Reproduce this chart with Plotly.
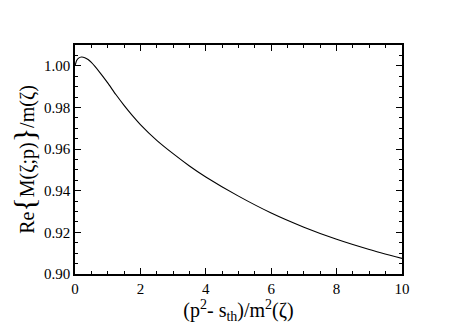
import plotly.graph_objects as go

# values
x_vals = [0.0, 0.05, 0.1, 0.2, 0.3, 0.4, 0.5, 0.75, 1.0, 1.25, 1.5, 1.75, 2.0,
          2.5, 3.0, 3.5, 4.0, 5.0, 6.0, 7.0, 8.0, 9.0, 10.0]
re_m = [1.0000, 1.0025, 1.0036, 1.0042, 1.0039, 1.0030, 1.0016, 0.9970,
        0.9918, 0.9862, 0.9810, 0.9762, 0.9718, 0.9642, 0.9578, 0.9519,
        0.9466, 0.9374, 0.9293, 0.9225, 0.9167, 0.9118, 0.9075]

x_ticks = [0, 2, 4, 6, 8, 10]
y_ticks = [0.90, 0.92, 0.94, 0.96, 0.98, 1.00]

SERIF = "'Liberation Serif', 'Times New Roman', Times, serif"

fig = go.Figure()
fig.add_trace(go.Scatter(
    x=x_vals, y=re_m, mode="lines",
    line=dict(color="black", width=1.1, shape="spline", smoothing=0.6),
    showlegend=False, hoverinfo="skip",
))

axis_common = dict(
    showgrid=False, zeroline=False, automargin=False,
    showline=True, linecolor="black", linewidth=1.5,
    mirror="allticks", ticks="inside", ticklen=6, tickwidth=1, tickcolor="black",
    tickfont=dict(family=SERIF, size=15, color="black"),
)

fig.update_xaxes(
    range=[0, 10], tickvals=x_ticks, ticktext=[str(v) for v in x_ticks],
    minor=dict(dtick=0.5, ticks="inside", ticklen=3, tickcolor="black"),
    title=dict(text="(p<sup>2</sup>- s<sub>th</sub>)/m<sup>2</sup>(ζ)",
               font=dict(family=SERIF, size=20, color="black"),
               standoff=0),
    **axis_common,
)
fig.update_yaxes(
    range=[0.90, 1.01], tickvals=y_ticks, ticktext=["%.2f" % v for v in y_ticks],
    minor=dict(dtick=0.005, ticks="inside", ticklen=3, tickcolor="black"),
    title=dict(text="Re<span style='font-size:30px'>{</span>M(ζ;p)<span style='font-size:30px'>}</span>/m(ζ)",
               font=dict(family=SERIF, size=20, color="black"),
               standoff=4),
    **axis_common,
)

fig.update_layout(
    width=463, height=327,
    margin=dict(l=75, r=61, t=45, b=53),
    paper_bgcolor="white", plot_bgcolor="white",
    font=dict(family=SERIF, color="black"),
)

# drop the browser's default body margin so the figure sits at the page corner
fig.write_html("out.html", config={"displayModeBar": False},
               post_script="document.body.style.margin='0';")
